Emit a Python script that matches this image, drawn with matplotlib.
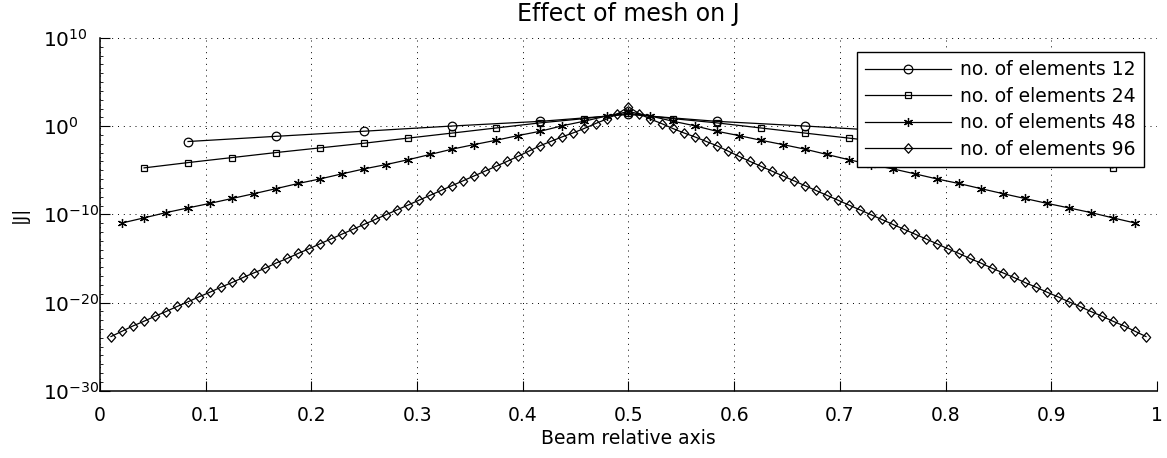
import matplotlib
matplotlib.use("Agg")
import matplotlib.pyplot as plt
from matplotlib.path import Path
import numpy as np

plt.rcParams['font.family'] = ['DejaVu Sans']
plt.rcParams['mathtext.fontset'] = 'dejavusans'

# ---- data (log10 of |J|) ----
x_12 = [0.0833, 0.1667, 0.25, 0.3333, 0.4167, 0.5, 0.5833, 0.6667, 0.75, 0.8333, 0.9167]
logj_12 = [-1.74, -1.15, -0.57, 0.02, 0.55, 1.33, 0.55, 0.02, -0.57, -1.15, -1.74]

x_24 = [0.0417, 0.0833, 0.125, 0.1667, 0.2083, 0.25, 0.2917, 0.3333, 0.375, 0.4167, 0.4583, 0.5,
        0.5417, 0.5833, 0.625, 0.6667, 0.7083, 0.75, 0.7917, 0.8333, 0.875, 0.9167, 0.9583]
logj_24 = [-4.73, -4.13, -3.56, -2.99, -2.46, -1.93, -1.35, -0.78, -0.2, 0.38, 0.86, 1.44,
           0.86, 0.38, -0.2, -0.78, -1.35, -1.93, -2.46, -2.99, -3.56, -4.13, -4.73]

x_48 = [0.0208, 0.0417, 0.0625, 0.0833, 0.1042, 0.125, 0.1458, 0.1667, 0.1875, 0.2083, 0.2292, 0.25,
        0.2708, 0.2917, 0.3125, 0.3333, 0.3542, 0.375, 0.3958, 0.4167, 0.4375, 0.4583, 0.4792, 0.5,
        0.5208, 0.5417, 0.5625, 0.5833, 0.6042, 0.625, 0.6458, 0.6667, 0.6875, 0.7083, 0.7292, 0.75,
        0.7708, 0.7917, 0.8125, 0.8333, 0.8542, 0.875, 0.8958, 0.9167, 0.9375, 0.9583, 0.9792]
logj_48 = [-10.98, -10.4, -9.8, -9.27, -8.75, -8.2, -7.65, -7.08, -6.5, -5.98, -5.4, -4.84,
           -4.35, -3.8, -3.2, -2.6, -2.08, -1.59, -1.06, -0.57, 0.05, 0.57, 1.15, 1.65,
           1.15, 0.57, 0.05, -0.57, -1.06, -1.59, -2.08, -2.6, -3.2, -3.8, -4.35, -4.84,
           -5.4, -5.98, -6.5, -7.08, -7.65, -8.2, -8.75, -9.27, -9.8, -10.4, -10.98]

x_96 = [0.0104, 0.0208, 0.0313, 0.0417, 0.0521, 0.0625, 0.0729, 0.0833, 0.0938, 0.1042,
        0.1146, 0.125, 0.1354, 0.1458, 0.1563, 0.1667, 0.1771, 0.1875, 0.1979, 0.2083,
        0.2188, 0.2292, 0.2396, 0.25, 0.2604, 0.2708, 0.2813, 0.2917, 0.3021, 0.3125,
        0.3229, 0.3333, 0.3438, 0.3542, 0.3646, 0.375, 0.3854, 0.3958, 0.4063, 0.4167,
        0.4271, 0.4375, 0.4479, 0.4583, 0.4688, 0.4792, 0.4896, 0.5, 0.5104, 0.5208,
        0.5313, 0.5417, 0.5521, 0.5625, 0.5729, 0.5833, 0.5938, 0.6042, 0.6146, 0.625,
        0.6354, 0.6458, 0.6563, 0.6667, 0.6771, 0.6875, 0.6979, 0.7083, 0.7188, 0.7292,
        0.7396, 0.75, 0.7604, 0.7708, 0.7813, 0.7917, 0.8021, 0.8125, 0.8229, 0.8333,
        0.8438, 0.8542, 0.8646, 0.875, 0.8854, 0.8958, 0.9063, 0.9167, 0.9271, 0.9375,
        0.9479, 0.9583, 0.9688, 0.9792, 0.9896]
logj_96 = [-23.86, -23.26, -22.65, -22.12, -21.55, -21.02, -20.45, -19.92, -19.35, -18.82,
           -18.25, -17.73, -17.16, -16.63, -16.1, -15.52, -15.0, -14.43, -13.9, -13.33,
           -12.78, -12.23, -11.68, -11.13, -10.58, -10.03, -9.48, -8.93, -8.38, -7.83,
           -7.28, -6.73, -6.18, -5.63, -5.08, -4.53, -3.98, -3.4, -2.8, -2.2,
           -1.7, -1.2, -0.75, -0.25, 0.3, 0.8, 1.4, 2.2,
           1.4, 0.8, 0.3, -0.25, -0.75, -1.2, -1.7, -2.2, -2.8, -3.4,
           -3.98, -4.53, -5.08, -5.63, -6.18, -6.73, -7.28, -7.83, -8.38, -8.93,
           -9.48, -10.03, -10.58, -11.13, -11.68, -12.23, -12.78, -13.33, -13.9, -14.43,
           -15.0, -15.52, -16.1, -16.63, -17.16, -17.73, -18.25, -18.82, -19.35, -19.92,
           -20.45, -21.02, -21.55, -22.12, -22.65, -23.26, -23.86]

labels = ['no. of elements 12', 'no. of elements 24', 'no. of elements 48', 'no. of elements 96']
x_ticks = [0, 0.1, 0.2, 0.3, 0.4, 0.5, 0.6, 0.7, 0.8, 0.9, 1]
x_tick_labels = ['0', '0.1', '0.2', '0.3', '0.4', '0.5', '0.6', '0.7', '0.8', '0.9', '1']
y_ticks = [1e-30, 1e-20, 1e-10, 1e0, 1e10]
y_tick_labels = [r'$10^{-30}$', r'$10^{-20}$', r'$10^{-10}$', r'$10^{0}$', r'$10^{10}$']

# ---- figure ----
fig = plt.figure(figsize=(11.67, 4.58), dpi=100)
ax = fig.add_axes([0.0857, 0.147, 0.9057, 0.770])

asterisk = (6, 2, 0)
diamond = Path([(0, 1), (0.88, 0), (0, -1), (-0.88, 0), (0, 1)],
               [Path.MOVETO, Path.LINETO, Path.LINETO, Path.LINETO, Path.CLOSEPOLY])
series = [
    (x_12, logj_12, dict(marker='o', markersize=6.2, markerfacecolor='none')),
    (x_24, logj_24, dict(marker='s', markersize=5, markerfacecolor='none')),
    (x_48, logj_48, dict(marker=asterisk, markersize=6.5)),
    (x_96, logj_96, dict(marker=diamond, markersize=6.8, markerfacecolor='none')),
]
for (xs, ls, st), lab in zip(series, labels):
    ax.plot(xs, 10.0 ** np.array(ls), color='black', linewidth=0.9,
            markeredgecolor='black', markeredgewidth=0.9, label=lab, **st)

ax.set_yscale('log')
ax.set_xlim(0, 1)
ax.set_ylim(1e-30, 1e10)
ax.set_xticks(x_ticks)
ax.set_xticklabels(x_tick_labels)
ax.set_yticks(y_ticks)
ax.set_yticklabels(y_tick_labels, ha='left')
ax.yaxis.set_minor_locator(matplotlib.ticker.LogLocator(base=10, subs=[1.0], numticks=50))
ax.yaxis.set_minor_formatter(matplotlib.ticker.NullFormatter())
ax.tick_params(axis='x', which='major', direction='in', length=7, width=0.8,
               labelsize=13.5, pad=11, top=False)
ax.tick_params(axis='y', which='major', direction='in', length=7, width=0.8,
               labelsize=14.5, pad=41, right=False)
ax.tick_params(axis='y', which='minor', direction='in', length=2, width=0.6, right=False)
ax.grid(True, which='major', color='black', linestyle=(0, (1, 5)), linewidth=0.7)

ax.spines['top'].set_visible(False)
ax.spines['right'].set_visible(False)
for s in ('left', 'bottom'):
    ax.spines[s].set_linewidth(1.1)

ax.set_title('Effect of mesh on J', fontsize=17, pad=12)
ax.set_xlabel('Beam relative axis', fontsize=13.5, labelpad=3)
ax.set_ylabel('|J|', fontsize=13, labelpad=10)

leg = ax.legend(loc='upper right', bbox_to_anchor=(0.9877, 0.961), fontsize=13.5,
                numpoints=1, handlelength=4.6, frameon=True, fancybox=False,
                edgecolor='black', framealpha=1, borderpad=0.45, labelspacing=0.4,
                handletextpad=0.45, borderaxespad=0.0)
leg.get_frame().set_linewidth(1.0)

fig.savefig('out.png', dpi=100)
